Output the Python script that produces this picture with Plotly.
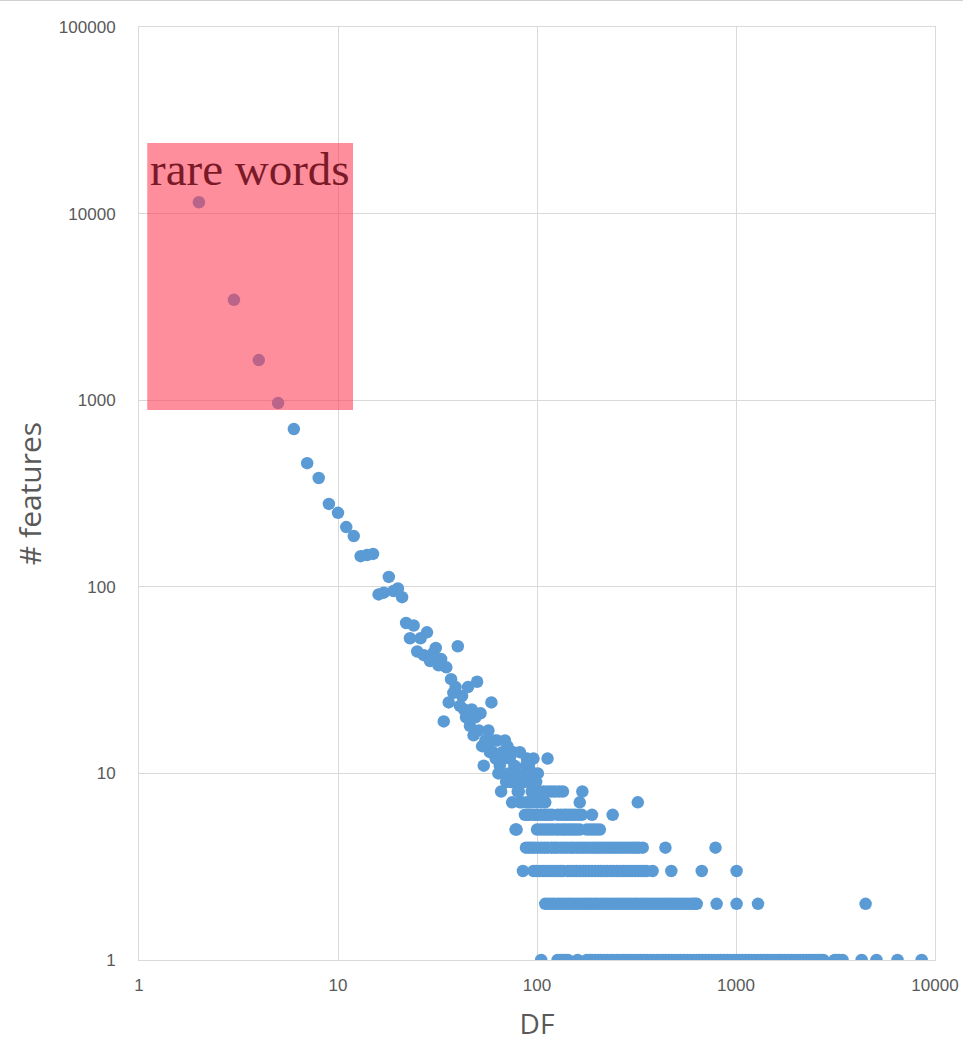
import plotly.graph_objects as go

# ---- data: (DF, # features) ----
df_top = [2, 3, 4, 5, 6, 7, 8, 9, 10, 11, 12, 13, 14, 15, 16, 17, 18, 19, 20, 21,
          22, 23, 24, 25, 26, 27, 28, 29, 30, 31, 32, 33, 34, 35, 36, 37, 38, 39, 40,
          41, 42, 43, 44, 45, 46, 47, 48, 49, 50, 51, 52, 53, 54, 55, 56, 57, 58, 59,
          60, 61, 62, 63, 64, 65, 66, 67, 68, 69, 70, 71, 72, 73, 74, 75, 76, 77, 78,
          79, 80, 81, 82, 83, 84, 85, 86]
cnt_top = [11500, 3450, 1640, 965, 700, 460, 383, 278, 249, 209, 187, 146, 148, 150, 91, 93,
           113, 95, 98, 88, 64, 53, 62, 45, 53, 43, 57, 40, 44, 47, 38, 41, 19, 37, 24, 32,
           27, 29, 48, 23, 26, 22, 20, 29, 18, 22, 16, 20, 31, 17, 21, 14, 11, 15, 14, 17,
           13, 24, 13, 15, 12, 15, 10, 11, 8, 13, 12, 15, 9, 14, 10, 12, 9, 9, 13, 11, 5,
           10, 8, 8, 13, 9, 7, 9, 10]

df_c12 = [89, 96, 113]
df_c11 = [88, 91]
df_c10 = [90, 93, 97, 101]
df_c9 = [87, 92, 95, 99]
df_c8 = [94, 98, 103, 108, 113, 118, 123, 129, 135, 169]
df_c7 = [75, 82, 89, 92, 95, 100, 105, 110, 164, 321]
df_c6 = [87, 90, 93, 97, 100, 104, 108, 111, 115, 119, 127, 132, 137, 141, 146, 151, 156,
         162, 168, 189, 240]
df_c5 = [79, 100, 104, 108, 112, 116, 120, 125, 129, 134, 138, 143, 148, 153, 158, 164,
         178, 185, 192, 199, 207]
df_c4 = [88, 91, 94, 97, 101, 105, 109, 113, 118, 122, 126, 131, 136, 141, 147, 152, 158,
         164, 170, 176, 183, 190, 197, 204, 212, 220, 228, 236, 245, 254, 263, 273, 283,
         294, 305, 315, 325, 340, 442, 789]
df_c3 = [85, 96, 99, 103, 107, 111, 115, 119, 123, 127, 131, 135, 143, 148, 153, 158, 164,
         170, 176, 182, 189, 196, 203, 210, 218, 226, 234, 242, 251, 260, 270, 280, 290,
         300, 311, 322, 334, 345, 356, 381, 473, 673, 1007]
df_c2 = [110, 114, 118, 122, 127, 131, 136, 141, 146, 151, 157, 163, 169, 175, 181, 187,
         194, 201, 209, 216, 224, 232, 241, 250, 259, 268, 278, 288, 298, 309, 320, 332,
         344, 356, 369, 382, 396, 410, 425, 440, 456, 473, 490, 508, 526, 545, 565, 586,
         606, 621, 635, 799, 1007, 1290, 4480]
df_c1 = [105, 127, 131, 135, 139, 143, 160, 178, 184, 189, 196, 203, 210, 218, 226, 234,
         242, 251, 260, 270, 280, 290, 300, 311, 322, 334, 346, 359, 372, 385, 399, 413,
         428, 444, 460, 476, 493, 511, 530, 549, 569, 589, 610, 632, 655, 679, 704, 729,
         755, 782, 811, 840, 870, 902, 934, 968, 1003, 1039, 1077, 1116, 1156, 1198, 1241,
         1286, 1332, 1380, 1430, 1482, 1535, 1590, 1647, 1700, 1765, 1830, 1895, 1960,
         2030, 2100, 2180, 2260, 2340, 2420, 2510, 2600, 2680, 2750, 3130, 3220, 3300,
         3430, 4280, 5080, 6480, 8570]

rows = [(12, df_c12), (11, df_c11), (10, df_c10), (9, df_c9), (8, df_c8), (7, df_c7),
        (6, df_c6), (5, df_c5), (4, df_c4), (3, df_c3), (2, df_c2), (1, df_c1)]

x_vals = list(df_top)
y_vals = list(cnt_top)
for c, lst in rows:
    x_vals += lst
    y_vals += [c] * len(lst)

x_ticks = [1, 10, 100, 1000, 10000]
x_text = ["1", "10", "100", "1000", "10000"]
y_ticks = [1, 10, 100, 1000, 10000, 100000]
y_text = ["1", "10", "100", "1000", "10000", "100000"]

# highlight box (data coords)
box_x = [1.1, 11.9]
box_y = [886, 23900]
box_label = "rare words"

grid = "#D9D9D9"
txt = "#595959"

fig = go.Figure()
fig.add_trace(go.Scatter(
    x=x_vals, y=y_vals, mode="markers",
    marker=dict(size=12.5, color="#5B9BD5", line=dict(width=0)),
    hoverinfo="x+y", showlegend=False,
))

fig.add_shape(type="rect", xref="x", yref="y",
              x0=box_x[0], x1=box_x[1], y0=box_y[0], y1=box_y[1],
              fillcolor="rgba(255,60,85,0.58)", line=dict(width=0), layer="above")
fig.add_annotation(x=0.0, xref="x", y=4.39, yref="y", text=box_label,
                   showarrow=False, xanchor="left", yanchor="top", xshift=9,
                   font=dict(family="Liberation Serif, DejaVu Serif, serif", size=47,
                             color="#7A1A28"))

# thin grey rule across the top of the page
fig.add_shape(type="line", xref="paper", yref="paper", x0=-0.2, x1=1.05, y0=1.029, y1=1.029,
              line=dict(color="#D0D0D0", width=2))

axis_common = dict(
    type="log", showgrid=True, gridcolor=grid, gridwidth=1,
    showline=True, linecolor=grid, linewidth=1, mirror=True,
    ticks="", zeroline=False, automargin=False,
    tickfont=dict(family="Liberation Sans, Arial, sans-serif", size=17, color=txt),
)

fig.update_xaxes(**axis_common, range=[0, 4], tickvals=x_ticks, ticktext=x_text,
                 ticklabelstandoff=10,
                 title=dict(text="DF", standoff=19,
                            font=dict(family="Open Sans, sans-serif", size=28, color=txt)))
fig.update_yaxes(**axis_common, range=[0, 5], tickvals=y_ticks, ticktext=y_text,
                 ticklabelstandoff=19,
                 title=dict(text="# features", standoff=8,
                            font=dict(family="Open Sans, sans-serif", size=30, color=txt)))

fig.update_layout(
    width=963, height=1048,
    margin=dict(l=139, r=28, t=27, b=88),
    plot_bgcolor="white", paper_bgcolor="white",
)

fig.write_html("out.html", config={"displayModeBar": False},
               post_script="document.body.style.margin='0';")
